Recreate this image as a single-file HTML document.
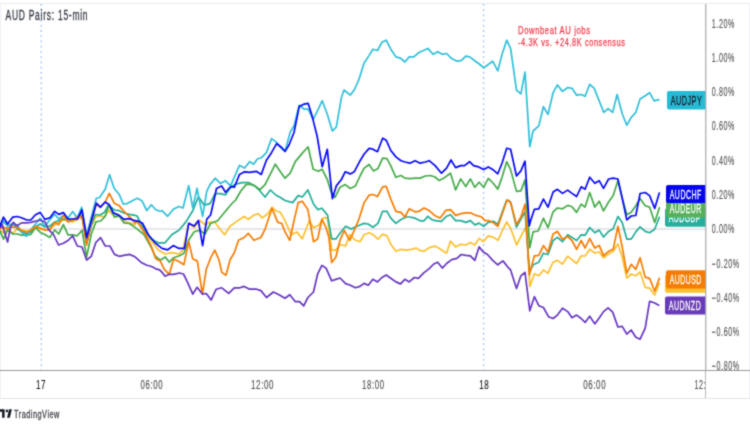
<!DOCTYPE html>
<html><head><meta charset="utf-8"><title>AUD Pairs: 15-min</title>
<style>html,body{margin:0;padding:0;background:#fff;overflow:hidden}svg{display:block}</style></head>
<body><svg width="750" height="430" viewBox="0 0 750 430">
<defs><filter id="bl" x="0" y="0" width="1" height="1" color-interpolation-filters="sRGB"><feConvolveMatrix order="3" kernelMatrix="1 2 1 2 12 2 1 2 1" divisor="24" edgeMode="duplicate"/></filter></defs>
<g filter="url(#bl)">
<rect x="0" y="0" width="750" height="430" fill="#fff"/>
<rect x="0" y="3" width="750" height="1" fill="#e8eaee"/>
<rect x="0" y="3" width="1" height="396" fill="#f1f2f5"/>
<rect x="749" y="3" width="1" height="396" fill="#f1f2f5"/>
<rect x="0" y="228.5" width="705" height="1" fill="#cdd0d8"/>
<line x1="41.2" y1="4" x2="41.2" y2="370" stroke="#a4c4f4" stroke-width="1.4" stroke-dasharray="1.8 3.42"/>
<line x1="483.6" y1="4" x2="483.6" y2="370" stroke="#a4c4f4" stroke-width="1.4" stroke-dasharray="1.8 3.42"/>
<g fill="none" stroke-width="1.7" stroke-linejoin="round" stroke-linecap="round">
<polyline stroke="#fbc02d" points="0,229.7 3.5,232.8 7.6,228.7 12.8,233.4 17.4,228.7 21.5,229.9 26.7,231 30.8,230 35.5,227 40.1,229 44.8,230 50,228 54.7,225 63.4,220 72.7,222 82,217.2 86.6,241.4 91.3,226 95.7,216.8 99.9,215.9 104.6,216.8 108.7,210.3 114.5,216.3 119.2,215.3 123.8,221 129.4,222.8 135,224.7 137,221 144,231.7 151,240 158,249.8 165,254 172,252.6 178.9,254 183,249.8 188.7,223.3 194.2,227.5 199.8,220.5 205.4,224.7 210,222.1 214.8,222.1 219,227.7 224.6,234.7 230.1,226.3 235.7,222.1 239.9,219.3 244.1,216.5 248.3,219.3 253.9,215.1 258.1,213.7 262.3,217.9 267.8,213.7 272,207.3 276.2,211 280.4,212.3 285,220.7 291.2,234.7 296.8,231.9 302.3,238.9 309.3,220.7 313.5,227.7 319.1,224.9 323.3,217.9 327.5,217.9 331.7,250.1 335.9,250.1 340,244.5 345.6,245.9 349.8,234.7 355.4,240.3 360,241.7 364,234.8 369.1,232.8 373.4,234.8 378,239.2 382.6,234.1 387,235.9 390.8,244.3 395.9,251.2 401,249.4 406.2,250.2 411.3,249.4 416.4,248.1 420.2,250.7 424,251.2 429.2,247.6 435,246.1 440.2,249 446.6,253.2 450.5,241 455.6,246.9 460.7,244.3 465.8,245 470.4,242.5 474.8,245 479.1,238.4 483.2,241.7 488.3,235.9 493.4,237.4 498,240.3 502.6,230 506.7,222 510.8,228.7 516.6,245 522.4,233.4 527,225.2 529.8,286.5 534.4,273.7 538.8,275.8 543.4,269.9 548,273.2 553.1,262.2 557.4,260.4 562.5,264 567.7,256.3 572,259.6 576.6,263.5 581.2,255.8 585.1,256 589.7,249.3 594.8,253 599.2,252 603.5,257.7 608.6,254 613.2,251.3 617.9,244 622.2,257 626.8,278 631.2,274 635.8,275.8 640.1,272 645.2,287.3 649.6,288.1 654.7,295 659.3,283.5"/>
<polyline stroke="#21ad97" points="0,228 3.5,221 7.6,226 12.8,224 17.4,229 21.5,231.5 26.7,234 30.8,232 35.5,227 40.1,224 44.8,227 50,226 54.7,222 63.4,219 72.7,220 82,214 86.6,243 91.3,225 95.3,214.5 99.9,215 104.6,212.2 108.3,205.2 114.5,210 119.2,210.7 124,213 129.4,214.4 135,215.3 137,216 144,228.9 151,238.7 158,242.8 165,242.8 172,234.5 178.9,230.3 185.9,221.9 192.8,210.7 198.4,196.8 204,205.1 210,203.7 215.2,193.6 220.3,193.6 225.5,194.9 230.6,187.2 235.7,184.1 242,182.6 248.5,182.6 254.9,185.9 260,191 265,197 270.4,190 275.7,195 280.4,197.5 285,200.5 292.6,202.6 298.2,195.6 302.3,197 307.9,190 313.5,204 317.7,209.6 321.9,208.2 327.5,215.1 331.7,238.9 335.9,238.9 340,233.3 345.6,226.3 351.2,229.1 356.8,226.3 360,225 364,223.4 368,224 372.9,227.2 378,223.4 382.6,211.3 387,211.3 390.8,218.2 395.9,223.4 401,219.5 406.2,217 410,217 415.1,218.2 420.2,220.8 424,220.8 427.9,216.4 431.7,219.5 435.1,220.6 441.5,221.3 446.6,216.2 450.5,214.7 455.6,220.6 460.7,220.6 465.8,222.4 470.4,220.6 474.8,224.9 479.1,223.1 483.7,226.4 488.3,222.4 493.4,221.3 497.8,224.4 502.1,212.9 506.7,200.1 510.6,202 516.5,227.2 520.9,219 525,211.8 529.5,272 533.1,264.8 538.8,262.2 543.4,253.2 548,254.5 553.1,240.5 557.4,237.4 562.5,241.7 567.7,234.8 572,237.4 576.6,240.5 581.2,234.8 585.1,235.2 589.7,227.5 594.8,232.7 599.2,230.1 603.5,237 608.6,231.4 613.2,228.8 617.9,216.5 622.2,222.4 626.8,239.1 631.2,239.1 635.8,231.9 640.1,226.8 645.2,231.4 649.6,232.7 654.7,229.3 659.3,217.3"/>
<polyline stroke="#45aa49" points="0,231 3.5,239.2 7.6,229.9 12.8,234 17.4,234 21.5,235.1 26.7,235.1 30.8,234.5 35.5,227.6 40.1,232.2 44.8,234.5 50,237.4 54.7,229.9 58.7,234 63.4,224.7 68,234.9 72.7,234.9 77.3,235.8 82,230.2 86.6,257.2 91.3,234 95.9,221.9 100.6,221 105.2,216.3 109,205.1 114.5,217.2 119.2,216 123.8,222.8 129.4,223.5 135,227.4 144,234.5 151,247 155.1,255.8 160.2,260.2 165.3,257 169.2,262.1 173.7,257.7 179.4,255.8 183.9,253.2 188.7,240 194.2,231.7 199.8,230.3 205,234 210.6,223.5 217.6,220.7 224.6,212.3 231.5,204 235.7,200 240.8,191 246,184.6 249.8,184.1 254.9,185.9 260,189.7 265.1,184.6 270.2,174.4 275.3,164.2 280.4,171.8 285,178.2 290.2,173.1 295.3,161.6 301.7,153.9 308.1,146.8 313.2,169.3 318.4,171.3 322.2,169.3 327.3,179.5 331.2,192.3 335,197.4 340.1,187.2 345.2,184.6 350.3,188.5 355.4,185.9 360.1,176 364,168.4 369.1,164.5 373.4,170.9 378,168.4 382.6,158.1 387,158.6 390.8,165.8 395.9,177.3 401,175.5 404.9,178.1 410,178.6 415.1,178.1 420.2,178.1 425.3,176 430.4,175.5 435,177 439,180.4 444.1,177.9 450.5,173.2 455.6,189.9 460.7,178.9 465.8,186.5 470.4,178.9 474.8,187.3 479.1,182.2 483.7,187.3 488.3,178.4 493.4,183.5 497.8,189.1 502.1,177.1 506.7,161.7 510.6,169.6 516.5,191.4 520.9,190.9 525,179.9 529.8,247.6 533.1,231.8 538.2,231 543.4,218.2 548,227.7 553.1,211.8 557.4,208 562.5,208.8 567.7,205.4 572,206.7 576.6,212.4 581.2,204.2 585.1,207.1 589.7,192.5 594.8,207.1 599.2,201.2 603.5,210.9 608.6,202 613.2,195.6 617.9,180.7 622.2,198 626.8,214.8 631.2,212.2 635.8,205.8 640.1,198.6 645.2,205.8 649.6,207.1 654.7,222.4 659.3,207.9"/>
<polyline stroke="#2ebfd9" points="0,226.4 3.5,221.7 7.6,225.8 11.6,224 17.4,225.2 21.5,232.2 26.2,236.3 30.8,229.9 35.5,224 40.1,218.3 44.8,226.4 50,219.4 54.7,214.2 58.7,219 63.4,215.3 68,218 72.7,211.6 77.3,218 81.6,207.2 86.6,235.8 91.3,217 96.3,198.3 99.5,197.5 105.2,189.3 109.6,174.7 114.2,188.5 119.1,194.2 123.2,204 127.2,203.6 132.9,200.4 137.3,198.3 141.9,200.7 146.8,210.5 151.3,204.8 155.7,209.7 160,211.3 162,210.7 167.7,216.3 173.3,209.3 178.9,206.5 183,208 188.7,185.6 192.8,208 197,188.4 202.6,216.3 206.8,191.2 210,184.6 215.2,178.2 220.3,183.4 225.5,180.8 230.6,185.9 234.4,177 239.5,165.4 244.6,168 249.8,161.6 253.6,164.2 257.4,159 261.3,157.8 266.4,152.7 271.5,138.6 276.6,142.4 281.7,148.8 285,151.4 290.2,132.2 294.1,125.8 299.2,105.3 304.3,109.2 308.1,109.2 313.2,119.4 317.1,111.7 322.2,100.7 327.3,114.3 332.4,130.9 336.3,127.1 341.4,97.7 344,90 350.3,95.1 354.2,90 358.8,79.9 364,63.2 369,55.6 372.9,49.2 377.5,50.5 381.9,42.3 386.2,40.2 390.8,49.2 395.9,56.9 400.5,58.1 404.9,62 409.2,56.9 413.8,56.9 419,52.5 423.5,50.5 427.9,48.4 433,54.3 437.7,51.7 442.3,54.3 446.6,53.5 451.7,58.6 456.9,61.2 461.2,60.7 465.8,56.1 469.6,56.9 474.8,60.7 479.9,64.5 483.7,67.9 488.3,64.5 492.7,61.2 497.8,70.9 502.1,54.3 506.7,40.2 510.6,48.4 516.5,90.1 520.9,93.9 525,72.2 529.8,146.6 533.1,131 538.8,125.9 543.4,106.7 548,114.4 553.1,92.7 557.4,85 562.5,91.4 567.7,87.5 572,88.3 576.6,95.2 581.2,94.5 585.1,96.3 589.7,84.3 594.1,88.1 599.2,100.9 603.8,112.4 608.1,108.6 612.7,112.4 617.1,94.5 622.2,113.7 626.8,125.2 631.2,117.5 635.8,112.4 640.1,98.9 645.2,95.8 649.6,92.7 654.2,100.9 658.8,99.6"/>
<polyline stroke="#f57c00" points="0,228.1 3.5,227.6 7.6,228.1 12.8,227 17.4,227.6 21.5,230.5 26.7,232.2 30.8,230.5 35.5,226.4 40.1,228.1 44.8,229.9 50,229.9 54.7,222.3 58.7,224.7 63.4,215.3 68,222 72.7,220 77.3,217 82,216.3 86.6,245.1 91.3,222 96.2,204.6 100.4,207.4 105.2,202 109.3,193.4 114.2,203.2 119.1,205.6 123.2,210.5 128.9,216.2 135,222.8 137,221 144,231.7 151,245.6 155.8,258.7 160.2,260.9 164.1,269.2 169.2,274.3 173.7,259 178.9,261.5 183.9,264.7 188.7,241.5 192.8,259 197.3,260.9 202.4,294.1 206.3,269.2 210.7,257.7 214.8,250.1 219,260 221.8,272.4 226,275.2 230.1,259.8 234.3,252.8 238.5,240.3 244.1,237.5 248.3,233.3 253.9,240.3 260.9,237.5 265.1,229.1 272,208.2 277.6,222.1 281.8,223.5 285,231.9 289.8,240.3 294,220.7 298.2,202.6 302.3,201.2 307.9,209.6 313.5,241.7 317.7,238.9 321.9,219.3 326.1,227.7 328.9,237.5 331.7,262.6 335.9,257 340,240.3 344.2,230.5 349.8,240.3 355.4,227.7 358.8,219.5 364,202.9 369.1,195.2 372.9,194.5 377.5,196.5 382.6,186.8 386.2,186.3 390.8,199.1 395.9,211.3 401,212.4 404.9,217 409.2,208.8 415.1,211.8 419,211.3 424,208 429.2,210.6 435,215.7 440.2,218 445.9,210.3 450.5,209.6 455.6,215.4 460.7,213.7 465.8,212.9 470.9,212.9 476,215.4 481.2,216.7 485,220.6 488.8,220.6 493.9,223.1 497.8,226.4 502.1,214.2 506.7,200.9 508.8,200.3 511,204 516.5,224.6 520.9,217 525,204.2 529.3,275 530.6,269.9 534.4,255.8 538.8,255.3 543.4,245.6 548,252 553.1,234.1 557.4,231.5 562.5,239.2 567.7,236.6 572,240.5 576.6,249.4 581.2,240.5 585.1,248 589.7,238.5 594.8,248 599.2,245.4 603.5,255.7 608.6,251.3 613.2,249.3 617.9,226.3 622.2,246.7 626.8,273.2 631.2,264.3 635.8,269.4 640.1,257.9 645.2,277.1 649.6,278.4 654.7,291.2 659.3,278.4"/>
<polyline stroke="#6536c0" points="0,227.6 2.3,224.7 5.2,234.5 7.6,242.1 10.5,227 13.4,222.3 16.9,225.8 21.5,222.9 26.7,222.9 30.8,222.3 35.5,221.2 40.1,220 44.8,221.7 48.8,229.9 53.5,234.5 58.5,245 63.4,243.3 68,240.5 72.7,235.8 77.3,246 82,247 86.6,260 91.3,256.3 95.9,242.3 100.6,237.7 105.2,246 109.9,246 114.5,254.4 119.2,256.3 123.8,255.3 129.4,254.4 135,256.8 141.2,262.4 146.8,265.2 150,266 153.2,267.3 155.8,268.9 159.6,269.8 162.1,272.4 165.1,276.2 169.2,274.3 173.7,274.3 179.4,273 183.5,274 187.1,281.3 192.8,294.1 197.1,287.3 202.4,294.1 206.3,293.5 211.1,300.1 216.2,289.2 221.8,287.8 228.7,293.4 234.3,287.8 239.9,287.8 244.1,286.4 249.7,289.2 256.7,289.2 260.9,290.6 266.5,297.5 273.4,292 279,294.7 285,298.2 289.8,294.7 295.4,301.7 299.6,301.7 303.7,305.9 307.9,297.5 313.5,292 317.7,273.8 321.9,265.4 326.1,268.2 331.7,280.8 335.9,279.4 340,278 345.6,283.6 349.8,285 355.4,287.8 360,286.4 364,283.4 368.3,285.2 372.9,279.3 377.5,281.9 381.9,277.5 386.2,275 390.8,278.3 395.9,281.9 400.5,283.9 404.9,279.3 409.2,281.9 414.3,277.5 418.4,278.3 423.5,273.2 429.2,268.6 433.8,264 437.7,262.2 442.3,268.1 446.6,263.5 451.7,259.6 456.9,258.4 461.2,254.5 465.8,255.3 470.4,255.8 474.8,260.4 479.1,246.9 483.2,252 487.5,254.5 492.7,260.4 497.8,264.8 502.9,260.9 508,267.3 510.6,269.9 516.5,288.5 520.9,275.8 525,272.4 529.8,310.8 534.4,296.7 538.8,305.7 543.4,307.5 548.5,316.7 553.1,318.5 557.4,315.1 562.5,308.2 567.7,311.6 572,317.7 576.6,315.1 581.2,318.5 585.1,322.4 589.7,316.2 594.8,323.9 599.2,318 603.5,311.6 608.1,307.8 612.7,312.1 617.9,327 622.2,326.4 626.8,334.1 631.2,330 635.8,337.2 640.1,339.2 645.2,328.2 649.6,301.4 654.2,302.7 658.8,305.2"/>
<polyline stroke="#0808fa" points="0,225.8 3.5,217.1 7.6,224 12.8,217.1 17.4,216.5 21.5,217.7 26.7,220 30.8,220 35.5,214.8 40.1,212.4 44.8,219.4 50,217.7 54.7,211.3 58.7,214.4 63.4,212.6 68,219 72.7,219 77.3,219 82,209.8 86.6,237.7 91.3,221 96.3,203.2 100.4,207.2 105.2,202 109.3,204.8 113.4,212.9 119.1,215.4 124,219.4 128.9,218.6 133.7,220.3 137.8,221.1 142.6,223.3 148.2,234.5 155,242.8 162,248.4 167.7,249.8 173.3,245.6 178.9,248.4 184.5,248.4 188.7,223.3 194.2,226.1 198.4,220.5 202.6,245.6 206.8,219.1 210.6,215 214,200 216.5,188.5 221.6,185.9 225.5,192.3 230.6,186.7 234.4,187.2 239.5,174.4 244.6,171.8 249.8,172.4 256.2,171.3 261.3,174.4 266.4,160.3 271.5,152.7 276.6,143.7 281.7,147.5 285.1,151.4 289,145 294.1,132.2 299.2,106.6 304.3,104.1 308.1,103.3 312,115.6 317.1,136 322.2,166.7 327.3,149.3 332.4,198.7 336.3,185.9 341.4,179.5 345.2,171.8 350.3,173.9 354.2,171.8 360.1,160.7 364,154.3 369.1,148.4 372.9,149.2 377.5,151.7 382.6,138.2 386.2,140.2 390.8,150.5 395.9,156.9 401,160.7 404.9,162 410,163.2 415.1,160.7 420.2,163.2 425.3,162 429.2,160.7 435.1,165.6 441.5,173.2 446.6,168.1 451,160 455.6,167.6 460.7,165.6 464.5,165.6 469.6,161.7 473.5,165.6 478.6,166.9 483.7,169.4 488.3,166.9 492.7,169.4 497.8,173.8 502.1,163 506.7,148.2 510.6,149.2 516.5,176 520.9,170.9 525,161.2 529.3,225.9 530.6,220.8 534.4,209.3 538.8,208.8 543.4,199.1 548,207.2 553.1,191.9 557.4,189.3 562.5,193.4 567.7,190.1 572,193.4 576.6,196.5 581.2,186.8 585.1,189.2 589.7,177.2 594.8,183.3 599.2,180.7 603.5,188.4 608.6,179 613.2,178.2 617.9,179 622.2,198.1 626.8,219.9 631.2,216 635.8,215.5 640.1,193.5 645.2,192.5 649.6,195.6 654.7,208.4 659.3,193"/>
</g>
<g font-family='"Liberation Sans", Arial, sans-serif'>
<path d="M669,91 H705.5 V109.5 H669 Q667,109.5 667,107.5 V93 Q667,91 669,91 Z" fill="#26bcd6"/><text x="670.7" y="104.75" font-size="12" fill="#131722" stroke="#131722" stroke-width="0.3" letter-spacing="0.8" textLength="31.6" lengthAdjust="spacingAndGlyphs">AUDJPY</text>
<path d="M667,208.4 H705.5 V226.8 H667 Q665,226.8 665,224.8 V210.4 Q665,208.4 667,208.4 Z" fill="#25ae9b"/><text x="668.7" y="222.1" font-size="12" fill="#ffffff" stroke="#ffffff" stroke-width="0.3" letter-spacing="0.8" textLength="32.1" lengthAdjust="spacingAndGlyphs">AUDGBP</text>
<path d="M668,199 H705.5 V217.6 H668 Q666,217.6 666,215.6 V201 Q666,199 668,199 Z" fill="#55b159"/><text x="669.7" y="212.8" font-size="12" fill="#ffffff" stroke="#ffffff" stroke-width="0.3" letter-spacing="0.8" textLength="32.1" lengthAdjust="spacingAndGlyphs">AUDEUR</text>
<path d="M668,185 H705.5 V203 H668 Q666,203 666,201 V187 Q666,185 668,185 Z" fill="#0505ee"/><text x="669.7" y="198.5" font-size="12" fill="#ffffff" stroke="#ffffff" stroke-width="0.3" letter-spacing="0.8" textLength="32.1" lengthAdjust="spacingAndGlyphs">AUDCHF</text>
<path d="M667,274.5 H705.5 V292.7 H667 Q665,292.7 665,290.7 V276.5 Q665,274.5 667,274.5 Z" fill="#fbc02d"/>
<path d="M668,270.2 H705.5 V288.4 H668 Q666,288.4 666,286.4 V272.2 Q666,270.2 668,270.2 Z" fill="#f57c00"/><text x="669.7" y="283.8" font-size="12" fill="#ffffff" stroke="#ffffff" stroke-width="0.3" letter-spacing="0.8" textLength="32.1" lengthAdjust="spacingAndGlyphs">AUDUSD</text>
<path d="M667,296.5 H705.5 V314.5 H667 Q665,314.5 665,312.5 V298.5 Q665,296.5 667,296.5 Z" fill="#673ab7"/><text x="668.7" y="310.0" font-size="12" fill="#ffffff" stroke="#ffffff" stroke-width="0.3" letter-spacing="0.8" textLength="32.6" lengthAdjust="spacingAndGlyphs">AUDNZD</text>
</g>
<rect x="705.3" y="4" width="1" height="395" fill="#98999d"/>
<rect x="0" y="370" width="750" height="1" fill="#98999d"/>
<rect x="0" y="398" width="750" height="1" fill="#e2e4e9"/>
<g font-family='"Liberation Sans", Arial, sans-serif' font-size="11.9" fill="#555659" stroke="#555659" stroke-width="0.15" letter-spacing="1">
<text x="711.8" y="27.50" textLength="23.2" lengthAdjust="spacingAndGlyphs">1.20%</text>
<text x="711.8" y="61.79" textLength="23.2" lengthAdjust="spacingAndGlyphs">1.00%</text>
<text x="711.8" y="96.08" textLength="23.2" lengthAdjust="spacingAndGlyphs">0.80%</text>
<text x="711.8" y="130.37" textLength="23.2" lengthAdjust="spacingAndGlyphs">0.60%</text>
<text x="711.8" y="164.66" textLength="23.2" lengthAdjust="spacingAndGlyphs">0.40%</text>
<text x="711.8" y="198.95" textLength="23.2" lengthAdjust="spacingAndGlyphs">0.20%</text>
<text x="711.8" y="233.24" textLength="23.2" lengthAdjust="spacingAndGlyphs">0.00%</text>
<text x="711.8" y="267.53" textLength="27.9" lengthAdjust="spacingAndGlyphs">−0.20%</text>
<text x="711.8" y="301.82" textLength="27.9" lengthAdjust="spacingAndGlyphs">−0.40%</text>
<text x="711.8" y="336.11" textLength="27.9" lengthAdjust="spacingAndGlyphs">−0.60%</text>
<text x="711.8" y="370.40" textLength="27.9" lengthAdjust="spacingAndGlyphs">−0.80%</text>
</g>
<g font-family='"Liberation Sans", Arial, sans-serif' font-size="12.5" letter-spacing="1">
<text x="36" y="388.6" fill="#1c1d22" stroke="#1c1d22" stroke-width="0.2" textLength="10.2" lengthAdjust="spacingAndGlyphs">17</text>
<text x="140.5" y="388.6" fill="#56575b" stroke="#56575b" stroke-width="0.2" textLength="22.6" lengthAdjust="spacingAndGlyphs">06:00</text>
<text x="251" y="388.6" fill="#56575b" stroke="#56575b" stroke-width="0.2" textLength="23.1" lengthAdjust="spacingAndGlyphs">12:00</text>
<text x="362" y="388.6" fill="#56575b" stroke="#56575b" stroke-width="0.2" textLength="22.6" lengthAdjust="spacingAndGlyphs">18:00</text>
<text x="479.2" y="388.6" fill="#1c1d22" stroke="#1c1d22" stroke-width="0.2" textLength="10.2" lengthAdjust="spacingAndGlyphs">18</text>
<text x="583.2" y="388.6" fill="#56575b" stroke="#56575b" stroke-width="0.2" textLength="23" lengthAdjust="spacingAndGlyphs">06:00</text>
<text x="694.5" y="388.6" fill="#56575b" stroke="#56575b" stroke-width="0.2" textLength="11.6" lengthAdjust="spacingAndGlyphs">12:</text>
</g>
<rect x="706" y="371" width="43" height="27" fill="#fff"/>
<text x="5.5" y="20" font-family='"Liberation Sans", Arial, sans-serif' font-size="13.8" fill="#3a3d48" stroke="#3a3d48" stroke-width="0.35" letter-spacing="1.2" textLength="82.8" lengthAdjust="spacingAndGlyphs">AUD Pairs: 15-min</text>
<g font-family='"Liberation Sans", Arial, sans-serif' font-size="11.8" fill="#f23645" stroke="#f23645" stroke-width="0.25">
<text x="518" y="34.4" letter-spacing="0.9" textLength="72.6" lengthAdjust="spacingAndGlyphs">Downbeat AU jobs</text>
<text x="518" y="46.4" letter-spacing="0.9" textLength="107.6" lengthAdjust="spacingAndGlyphs">-4.3K vs. +24.8K consensus</text>
</g>
<g fill="#131722"><path d="M0,409.2 H4.6 V417.8 H2.1 V411.7 H0 Z"/><circle cx="6.9" cy="410.9" r="1.3"/><path d="M9.0,409.2 H11.9 L9.8,417.8 H7.1 Z"/></g>
<text x="14" y="417.7" font-family='"Liberation Sans", Arial, sans-serif' font-size="11.5" fill="#404249" stroke="#404249" stroke-width="0.3" letter-spacing="0.8" textLength="45.9" lengthAdjust="spacingAndGlyphs">TradingView</text>
</g>
</svg></body></html>
